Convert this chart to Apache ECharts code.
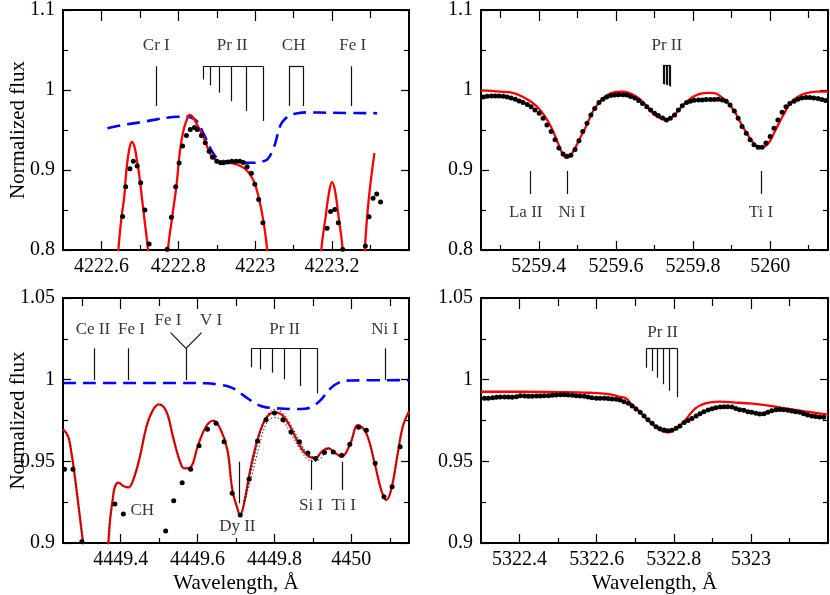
<!DOCTYPE html>
<html>
<head>
<meta charset="utf-8">
<script src="https://cdn.jsdelivr.net/npm/echarts@6/dist/echarts.min.js"></script>
<style>
html, body { margin: 0; padding: 0; background: #fff; }
#main { width: 830px; height: 595px; }
</style>
</head>
<body>
<div id="main"></div>
<script>
// ---- panel 1: 4222.5 - 4223.4 A ----
var p1MajorX = [4222.6, 4222.8, 4223, 4223.2];
var p1MinorX = [4222.7, 4222.9, 4223.1, 4223.3];
var p1Obs = [[4222.655,0.842],[4222.663,0.879],[4222.674,0.9016],[4222.683,0.911],[4222.693,0.905],[4222.702,0.884],[4222.713,0.850],[4222.724,0.8074],
  [4222.771,0.801],[4222.782,0.841],[4222.793,0.879],[4222.802,0.9086],[4222.811,0.930],[4222.821,0.943],[4222.831,0.9506],[4222.842,0.953],[4222.849,0.9506],
  [4222.860,0.943],[4222.870,0.934],[4222.880,0.9235],[4222.889,0.916],[4222.900,0.911],[4222.910,0.909],[4222.918,0.909],[4222.929,0.910],[4222.939,0.911],
  [4222.950,0.911],[4222.960,0.911],[4222.969,0.9095],[4222.979,0.904],[4222.990,0.896],[4222.999,0.8823],[4223.009,0.863],[4223.020,0.834],
  [4223.187,0.8272],[4223.196,0.848],[4223.207,0.8506],[4223.216,0.834],[4223.2275,0.801],
  [4223.2865,0.805],[4223.296,0.8416],[4223.3065,0.8646],[4223.316,0.870],[4223.326,0.860]];
var p1Model = [[4222.630,0.70],[4222.644,0.80],[4222.652,0.840],[4222.659,0.865],[4222.665,0.900],[4222.672,0.925],[4222.679,0.935],[4222.686,0.929],
  [4222.692,0.913],[4222.698,0.895],[4222.706,0.862],[4222.714,0.830],[4222.721,0.800],[4222.735,0.70],[4222.760,0.70],[4222.773,0.80],[4222.784,0.841],
  [4222.7955,0.882],[4222.804,0.923],[4222.8145,0.952],[4222.826,0.9675],[4222.830,0.969],[4222.838,0.966],[4222.849,0.9565],[4222.8665,0.940],
  [4222.884,0.9194],[4222.901,0.912],[4222.936,0.909],[4222.962,0.905],[4222.979,0.899],[4222.996,0.8864],[4223.009,0.866],[4223.021,0.837],
  [4223.031,0.80],[4223.045,0.70],[4223.160,0.70],[4223.172,0.80],[4223.183,0.841],[4223.192,0.872],[4223.200,0.885],[4223.208,0.873],[4223.217,0.841],
  [4223.2275,0.80],[4223.240,0.70],[4223.275,0.70],[4223.285,0.80],[4223.295,0.862],[4223.310,0.921]];
var p1NoPr = [[4222.6156,0.9523],[4222.660,0.9565],[4222.702,0.9597],[4222.740,0.963],[4222.771,0.9654],[4222.800,0.9665],[4222.823,0.9667],
  [4222.838,0.9645],[4222.849,0.9605],[4222.862,0.949],[4222.875,0.936],[4222.888,0.923],[4222.901,0.915],[4222.920,0.911],[4222.944,0.909],
  [4222.970,0.909],[4222.996,0.909],[4223.015,0.9105],[4223.031,0.913],[4223.048,0.9275],[4223.066,0.9564],[4223.080,0.965],[4223.092,0.9688],
  [4223.110,0.971],[4223.135,0.972],[4223.200,0.9715],[4223.317,0.971]];
var p1Marks = [[4222.7426,1.0296,4222.7426,0.98],
  [4222.864,1.0296,4223.02,1.0296],[4222.864,1.0296,4222.864,1.0132],[4222.882,1.0296,4222.882,1.0058],[4222.9065,1.0296,4222.9065,0.9967],
  [4222.9384,1.0296,4222.9384,0.986],[4222.9756,1.0296,4222.9756,0.9737],[4223.02,1.0296,4223.02,0.9613],
  [4223.088,1.0296,4223.1255,1.0296],[4223.088,1.0296,4223.088,0.98],[4223.1255,1.0296,4223.1255,0.98],
  [4223.249,1.0296,4223.249,0.98]];
var p1Labels = [['Cr I',4222.7426,1.056],['Pr II',4222.94,1.056],['CH',4223.10,1.056],['Fe I',4223.2535,1.056]];

// ---- panel 2: 5259.25 - 5260.15 A ----
var p2MajorX = [5259.4, 5259.6, 5259.8, 5260];
var p2MinorX = [5259.3, 5259.5, 5259.7, 5259.9, 5260.1];
var p2Obs = [[5259.256,0.9914],[5259.266,0.9922],[5259.277,0.9926],[5259.287,0.9926],[5259.297,0.9926],[5259.308,0.9922],[5259.318,0.9914],
  [5259.328,0.9901],[5259.339,0.9885],[5259.349,0.9864],[5259.359,0.9843],[5259.370,0.9819],[5259.380,0.979],[5259.390,0.975],[5259.401,0.9708],
  [5259.411,0.9646],[5259.421,0.9564],[5259.432,0.9481],[5259.442,0.9379],[5259.452,0.9275],[5259.463,0.9201],[5259.473,0.9173],[5259.483,0.9185],
  [5259.494,0.9255],[5259.504,0.9366],[5259.514,0.9481],[5259.525,0.9584],[5259.535,0.9687],[5259.545,0.9769],[5259.556,0.9843],[5259.566,0.9885],
  [5259.576,0.9914],[5259.587,0.993],[5259.597,0.9938],[5259.607,0.9942],[5259.618,0.9942],[5259.628,0.9938],[5259.638,0.992],[5259.649,0.990],
  [5259.659,0.987],[5259.669,0.983],[5259.680,0.979],[5259.690,0.975],[5259.700,0.971],[5259.710,0.968],[5259.721,0.965],[5259.731,0.9626],
  [5259.741,0.9646],[5259.752,0.9687],[5259.762,0.975],[5259.772,0.9802],[5259.783,0.9843],[5259.793,0.986],[5259.803,0.9872],[5259.814,0.9876],
  [5259.824,0.9876],[5259.834,0.988],[5259.845,0.988],[5259.855,0.988],[5259.865,0.9885],[5259.876,0.9876],[5259.886,0.986],[5259.896,0.9811],
  [5259.907,0.9737],[5259.917,0.9646],[5259.927,0.9543],[5259.938,0.946],[5259.948,0.9379],[5259.958,0.9317],[5259.969,0.9284],[5259.979,0.9284],
  [5259.989,0.9337],[5260.000,0.942],[5260.010,0.9523],[5260.020,0.9626],[5260.031,0.9721],[5260.041,0.979],[5260.051,0.9831],[5260.062,0.986],
  [5260.072,0.9885],[5260.082,0.9901],[5260.093,0.9905],[5260.103,0.9905],[5260.113,0.9901],[5260.124,0.9893],[5260.134,0.988],[5260.144,0.9868]];
var p2Model = [[5259.25,0.9996],[5259.30,0.998],[5259.339,0.9955],[5259.381,0.985],[5259.405,0.974],[5259.425,0.960],[5259.440,0.945],
  [5259.451,0.932],[5259.462,0.920],[5259.4716,0.915],[5259.482,0.918],[5259.494,0.9275],[5259.507,0.940],[5259.520,0.952],[5259.532,0.965],
  [5259.545,0.977],[5259.558,0.985],[5259.571,0.9914],[5259.585,0.9955],[5259.600,0.9975],[5259.616,0.998],[5259.6316,0.9967],[5259.648,0.993],
  [5259.666,0.987],[5259.680,0.980],[5259.692,0.973],[5259.705,0.967],[5259.718,0.964],[5259.731,0.9626],[5259.742,0.9645],[5259.752,0.969],
  [5259.765,0.976],[5259.778,0.983],[5259.790,0.988],[5259.804,0.9926],[5259.820,0.9955],[5259.839,0.9965],[5259.856,0.996],[5259.873,0.9914],
  [5259.890,0.984],[5259.908,0.973],[5259.920,0.962],[5259.934,0.950],[5259.947,0.940],[5259.960,0.932],[5259.970,0.9288],[5259.977,0.928],
  [5259.988,0.930],[5259.999,0.9358],[5260.012,0.948],[5260.025,0.9605],[5260.040,0.974],[5260.055,0.985],[5260.070,0.991],[5260.090,0.9955],
  [5260.120,0.998],[5260.150,0.998]];
var p2Marks = [[5259.722,1.0305,5259.742,1.0305],[5259.722,1.0305,5259.722,1.0075],[5259.726,1.0305,5259.726,1.007],[5259.730,1.0305,5259.730,1.0066],
  [5259.734,1.0305,5259.734,1.006],[5259.738,1.0305,5259.738,1.0052],[5259.742,1.0305,5259.742,1.0043],
  [5259.3785,0.8988,5259.3785,0.870],[5259.4725,0.8988,5259.4725,0.870],[5259.976,0.8988,5259.976,0.870]];
var p2Labels = [['Pr II',5259.732,1.055],['La II',5259.366,0.8465],['Ni I',5259.486,0.8465],['Ti I',5259.976,0.8465]];

// ---- panel 3: 4449.25 - 4450.15 A ----
var p3MajorX = [4449.4, 4449.6, 4449.8, 4450];
var p3MinorX = [4449.3, 4449.5, 4449.7, 4449.9, 4450.1];
var p3Obs = [[4449.254,0.9451],[4449.276,0.9451],[4449.299,0.9008],[4449.385,0.9239],[4449.407,0.9177],[4449.517,0.9073],[4449.538,0.9259],
  [4449.560,0.9369],[4449.582,0.9451],[4449.604,0.9596],[4449.626,0.9696],[4449.648,0.9733],[4449.669,0.962],[4449.690,0.9304],[4449.711,0.9171],
  [4449.734,0.939],[4449.756,0.9624],[4449.778,0.9755],[4449.800,0.9796],[4449.822,0.9755],[4449.843,0.968],[4449.865,0.962],[4449.887,0.9551],
  [4449.907,0.9518],[4449.930,0.9554],[4449.953,0.9557],[4449.975,0.9538],[4449.996,0.9604],[4450.019,0.9708],[4450.039,0.969],[4450.062,0.9488],
  [4450.085,0.9283],[4450.106,0.9344],[4450.127,0.9589]];
var p3Model = [[4449.250,0.9696],[4449.258,0.9675],[4449.265,0.9641],[4449.2735,0.9528],[4449.282,0.9385],[4449.2906,0.9222],[4449.297,0.910],
  [4449.302,0.900],[4449.310,0.88],[4449.360,0.88],[4449.368,0.900],[4449.3724,0.914],[4449.379,0.9263],[4449.385,0.9344],[4449.394,0.9369],
  [4449.407,0.9349],[4449.420,0.934],[4449.4325,0.9385],[4449.450,0.9528],[4449.467,0.9712],[4449.484,0.9814],[4449.4996,0.9849],[4449.519,0.9804],
  [4449.536,0.9651],[4449.553,0.9508],[4449.566,0.9457],[4449.583,0.9467],[4449.600,0.9589],[4449.622,0.9712],[4449.641,0.9749],[4449.6606,0.9692],
  [4449.6777,0.9569],[4449.6906,0.9324],[4449.7035,0.9212],[4449.7105,0.9171],[4449.721,0.9243],[4449.7337,0.9406],[4449.7466,0.9549],
  [4449.764,0.9692],[4449.781,0.9773],[4449.800,0.980],[4449.8196,0.9784],[4449.841,0.9712],[4449.8627,0.961],[4449.884,0.9539],[4449.9058,0.9518],
  [4449.923,0.9559],[4449.940,0.958],[4449.957,0.9553],[4449.9745,0.9528],[4449.996,0.960],[4450.0175,0.9722],[4450.039,0.9671],[4450.0606,0.9488],
  [4450.0777,0.9324],[4450.0906,0.9263],[4450.1035,0.9324],[4450.1208,0.9549],[4450.1337,0.9712],[4450.150,0.9805]];
var p3PrHigh = [[4449.720,0.9255],[4449.740,0.9445],[4449.760,0.9645],[4449.780,0.9775],[4449.800,0.9818],[4449.820,0.980],[4449.840,0.9735],
  [4449.865,0.9625],[4449.885,0.9552],[4449.905,0.9528],[4449.925,0.9555],[4449.940,0.958]];
var p3PrLow = [[4449.720,0.9235],[4449.740,0.940],[4449.760,0.959],[4449.780,0.9735],[4449.800,0.9768],[4449.820,0.975],[4449.840,0.968],
  [4449.865,0.958],[4449.885,0.9515],[4449.905,0.9498],[4449.925,0.953],[4449.940,0.958]];
var p3NoPr = [[4449.25,0.998],[4449.40,0.998],[4449.55,0.998],[4449.62,0.9978],[4449.66,0.9968],[4449.69,0.995],[4449.71,0.992],[4449.73,0.9886],
  [4449.75,0.9855],[4449.77,0.9835],[4449.80,0.9826],[4449.85,0.982],[4449.88,0.9822],[4449.90,0.9838],[4449.92,0.9875],[4449.945,0.9945],
  [4449.97,0.9985],[4450.00,0.9995],[4450.15,0.9997]];
var p3Marks = [[4449.3303,1.0192,4449.3303,0.9998],[4449.4206,1.0192,4449.4206,0.9998],
  [4449.57,0.9998,4449.57,1.0192],[4449.57,1.0192,4449.5298,1.0288],[4449.57,1.0192,4449.6106,1.0288],
  [4449.7406,1.0192,4449.9117,1.0192],[4449.7406,1.0192,4449.7406,1.0076],[4449.764,1.0192,4449.764,1.0063],[4449.794,1.0192,4449.794,1.0043],
  [4449.8266,1.0192,4449.8266,1.0002],[4449.867,1.0192,4449.867,0.9961],[4449.9117,1.0192,4449.9117,0.9916],
  [4450.089,1.0192,4450.089,0.9998],
  [4449.708,0.9498,4449.708,0.9243],[4449.897,0.9508,4449.897,0.9324],[4449.977,0.9498,4449.977,0.9324]];
var p3Labels = [['Ce II',4449.3277,1.0308],['Fe I',4449.428,1.0308],['Fe I',4449.523,1.0362],['V I',4449.635,1.0362],['Pr II',4449.8266,1.0308],
  ['Ni I',4450.0865,1.0308],['CH',4449.456,0.920],['Dy II',4449.7035,0.910],['Si I',4449.8955,0.9232],['Ti I',4449.980,0.9232]];

// ---- panel 4: 5322.3 - 5323.2 A ----
var p4MajorX = [5322.4, 5322.6, 5322.8, 5323];
var p4MinorX = [5322.5, 5322.7, 5322.9, 5323.1];
var p4Obs = [[5322.309,0.9886],[5322.319,0.9886],[5322.330,0.989],[5322.340,0.9892],[5322.350,0.9894],[5322.361,0.9894],[5322.371,0.9894],
  [5322.381,0.9892],[5322.392,0.9896],[5322.402,0.9902],[5322.413,0.99],[5322.423,0.9898],[5322.433,0.9898],[5322.444,0.99],[5322.454,0.99],
  [5322.464,0.9902],[5322.475,0.9902],[5322.485,0.9904],[5322.495,0.9906],[5322.506,0.9908],[5322.516,0.9908],[5322.526,0.9906],[5322.537,0.9904],
  [5322.547,0.9902],[5322.557,0.99],[5322.568,0.9898],[5322.578,0.9894],[5322.588,0.989],[5322.599,0.9886],[5322.609,0.9886],[5322.620,0.9886],
  [5322.630,0.9884],[5322.640,0.9882],[5322.651,0.988],[5322.661,0.9875],[5322.671,0.9865],[5322.682,0.9855],[5322.692,0.9839],[5322.702,0.982],
  [5322.713,0.98],[5322.723,0.9778],[5322.733,0.9755],[5322.744,0.9733],[5322.754,0.9712],[5322.764,0.970],[5322.775,0.9692],[5322.785,0.9688],
  [5322.795,0.969],[5322.806,0.9702],[5322.816,0.9716],[5322.827,0.9737],[5322.837,0.975],[5322.847,0.9763],[5322.858,0.9777],[5322.868,0.9792],
  [5322.878,0.9804],[5322.889,0.9814],[5322.899,0.9822],[5322.909,0.9828],[5322.920,0.9832],[5322.930,0.9834],[5322.940,0.9834],[5322.951,0.9832],
  [5322.961,0.9824],[5322.971,0.9816],[5322.982,0.9812],[5322.992,0.9804],[5323.002,0.98],[5323.013,0.9794],[5323.023,0.979],[5323.034,0.9792],
  [5323.044,0.98],[5323.054,0.981],[5323.065,0.9816],[5323.075,0.9818],[5323.085,0.9816],[5323.096,0.9812],[5323.106,0.9808],[5323.116,0.9804],
  [5323.127,0.98],[5323.137,0.9792],[5323.147,0.9784],[5323.158,0.9777],[5323.168,0.9775],[5323.178,0.9771],[5323.189,0.977]];
var p4Model = [[5322.30,0.9926],[5322.40,0.9926],[5322.50,0.9924],[5322.58,0.992],[5322.63,0.9912],[5322.66,0.9895],[5322.676,0.9886],
  [5322.69,0.985],[5322.702,0.9824],[5322.715,0.9795],[5322.728,0.9763],[5322.745,0.9727],[5322.765,0.969],[5322.783,0.9677],[5322.80,0.969],
  [5322.813,0.9712],[5322.83,0.9753],[5322.856,0.9824],[5322.882,0.9855],[5322.917,0.9865],[5322.96,0.986],[5323.003,0.9853],[5323.05,0.984],
  [5323.089,0.9824],[5323.14,0.9806],[5323.20,0.9786]];
var p4Marks = [[5322.7294,1.0192,5322.808,1.0192],[5322.7294,1.0192,5322.7294,1.0073],[5322.743,1.0192,5322.743,1.0053],
  [5322.758,1.0192,5322.758,1.0012],[5322.7726,1.0192,5322.7726,0.9972],[5322.789,1.0192,5322.789,0.9932],[5322.808,1.0192,5322.808,0.9892]];
var p4Labels = [['Pr II',5322.771,1.0288]];

var FONT = 'Liberation Serif';
var grids = [], xAxes = [], yAxes = [], series = [];

function addPanel(p) {
  var gi = grids.length;
  grids.push(p.grid);
  var xi = xAxes.length, yi = yAxes.length;
  function xa(pos, vals, len, main) {
    var withLabel = main && pos === 'bottom';
    return {
      gridIndex: gi, type: 'value', position: pos, min: p.xMin, max: p.xMax,
      axisLine: {show: main, onZero: false, lineStyle: {color: '#000', width: 2}},
      axisTick: {show: true, inside: true, length: len, customValues: vals, lineStyle: {color: '#000', width: 1.2}},
      axisLabel: {show: withLabel, customValues: vals, color: '#000', fontFamily: FONT, fontSize: 20, margin: 7,
        formatter: function (v) { return String(v); }},
      splitLine: {show: false},
      name: withLabel && p.xName ? p.xName : '',
      nameLocation: 'middle', nameGap: 30, nameMoveOverlap: false,
      nameTextStyle: {color: '#000', fontFamily: FONT, fontSize: 21}
    };
  }
  xAxes.push(xa('bottom', p.major, 9, true), xa('bottom', p.minor, 5, false),
             xa('top', p.major, 11, true), xa('top', p.minor, 8, false));
  function ya(pos) {
    var withLabel = pos === 'left';
    return {
      gridIndex: gi, type: 'value', position: pos, min: p.yMin, max: p.yMax, interval: p.yStep,
      axisLine: {show: true, onZero: false, lineStyle: {color: '#000', width: 2}},
      axisTick: {show: true, inside: true, length: 8, lineStyle: {color: '#000', width: 1.2}},
      minorTick: {show: true, splitNumber: 2, length: 5, lineStyle: {color: '#000', width: 1.2}},
      axisLabel: {show: withLabel, color: '#000', fontFamily: FONT, fontSize: 20, margin: 8},
      splitLine: {show: false}, minorSplitLine: {show: false},
      name: withLabel && p.yName ? p.yName : '',
      nameLocation: 'middle', nameGap: 34, nameMoveOverlap: false,
      nameTextStyle: {color: '#000', fontFamily: FONT, fontSize: 21}
    };
  }
  yAxes.push(ya('left'), ya('right'));

  if (p.noPr) {
    series.push({type: 'line', xAxisIndex: xi, yAxisIndex: yi, data: p.noPr, smooth: 0.4, showSymbol: false,
      lineStyle: {color: '#0000ff', width: 2.6, type: [13, 7]}, z: 2});
  }
  series.push({type: 'line', xAxisIndex: xi, yAxisIndex: yi, data: p.model, smooth: 0.4, showSymbol: false,
    lineStyle: {color: '#ff0000', width: 2.3}, z: 3});
  (p.dotted || []).forEach(function (d) {
    series.push({type: 'line', xAxisIndex: xi, yAxisIndex: yi, data: d, smooth: 0.4, showSymbol: false,
      lineStyle: {color: '#222', width: 1, type: [1.5, 2]}, z: 4});
  });
  series.push({type: 'scatter', xAxisIndex: xi, yAxisIndex: yi, data: p.obs, symbolSize: 5,
    itemStyle: {color: '#000', opacity: 1}, z: 5});
  series.push({
    type: 'scatter', xAxisIndex: xi, yAxisIndex: yi, symbolSize: 1, z: 6, silent: true,
    itemStyle: {color: 'rgba(0,0,0,0)'},
    data: p.labels.map(function (l) { return {name: l[0], value: [l[1], l[2]]}; }),
    label: {show: true, position: 'inside', formatter: '{b}', color: '#000', fontFamily: FONT, fontSize: 17},
    markLine: {
      silent: true, symbol: ['none', 'none'], label: {show: false},
      lineStyle: {color: '#111', width: 1.2, type: 'solid'},
      data: p.marks.map(function (m) { return [{coord: [m[0], m[1]]}, {coord: [m[2], m[3]]}]; })
    }
  });
}

addPanel({grid: {left: 63, top: 7, width: 346, height: 243}, xMin: 4222.5, xMax: 4223.4, major: p1MajorX, minor: p1MinorX,
  yMin: 0.8, yMax: 1.1, yStep: 0.1, yName: 'Normalized flux',
  obs: p1Obs, model: p1Model, noPr: p1NoPr, marks: p1Marks, labels: p1Labels});
addPanel({grid: {left: 481, top: 7, width: 347, height: 243}, xMin: 5259.25, xMax: 5260.15, major: p2MajorX, minor: p2MinorX,
  yMin: 0.8, yMax: 1.1, yStep: 0.1,
  obs: p2Obs, model: p2Model, marks: p2Marks, labels: p2Labels});
addPanel({grid: {left: 63, top: 298, width: 346, height: 245}, xMin: 4449.25, xMax: 4450.15, major: p3MajorX, minor: p3MinorX,
  yMin: 0.9, yMax: 1.05, yStep: 0.05, yName: 'Normalized flux', xName: 'Wavelength, Å',
  obs: p3Obs, model: p3Model, noPr: p3NoPr, dotted: [p3Model, p3PrHigh, p3PrLow], marks: p3Marks, labels: p3Labels});
addPanel({grid: {left: 481, top: 298, width: 347, height: 245}, xMin: 5322.3, xMax: 5323.2, major: p4MajorX, minor: p4MinorX,
  yMin: 0.9, yMax: 1.05, yStep: 0.05, xName: 'Wavelength, Å',
  obs: p4Obs, model: p4Model, marks: p4Marks, labels: p4Labels});

var chart = echarts.init(document.getElementById('main'));
chart.setOption({
  backgroundColor: '#fff',
  animation: false,
  grid: grids,
  xAxis: xAxes,
  yAxis: yAxes,
  series: series
});
</script>
</body>
</html>
